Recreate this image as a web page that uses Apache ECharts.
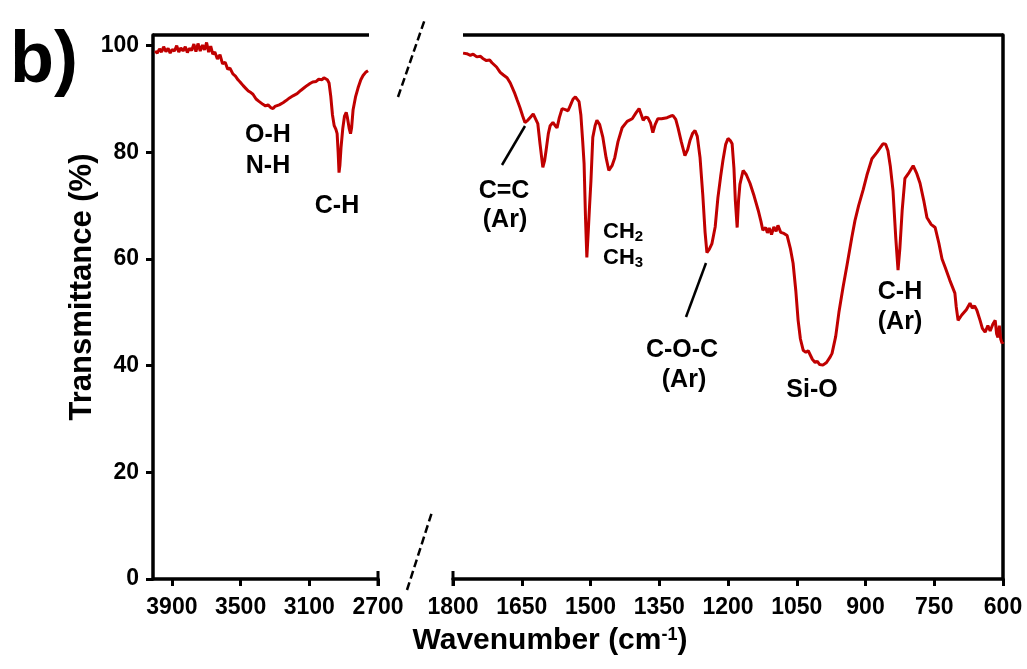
<!DOCTYPE html>
<html><head><meta charset="utf-8">
<script src="https://cdn.jsdelivr.net/npm/echarts@6/dist/echarts.min.js"></script>
<style>html,body{margin:0;padding:0;background:#fff}#c{width:1027px;height:669px}</style>
</head><body><div id="c"></div>
<script>
// Left panel (4000-2700 cm-1)
const leftWavenumber = [3998,3985,3972,3960,3948,3935,3922,3910,3898,3885,3872,3860,3848,3835,3822,3810,3798,3785,3772,3760,3748,3735,3722,3710,3698,3686,3674,3662,3650,3635,3620,3605,3590,3575,3562,3545,3530,3515,3503,3485,3470,3455,3440,3428,3410,3395,3387,3370,3355,3340,3325,3311,3300,3290,3275,3253,3235,3215,3195,3171,3150,3130,3110,3096,3080,3060,3045,3026,3015,3008,2995,2985,2975,2965,2955,2945,2938,2932,2927,2922,2915,2905,2895,2885,2878,2868,2860,2854,2845,2830,2816,2800,2787,2772,2758];
const leftTransmittance = [99.0,98.6,99.4,98.8,99.8,98.9,99.5,98.6,99.3,99.0,100.0,98.8,99.6,99.0,99.8,98.7,99.5,99.1,100.3,98.9,100.4,99.0,100.1,99.2,100.6,98.8,99.9,98.4,98.8,97.5,98.3,96.6,96.9,95.6,95.8,94.7,94.3,93.6,93.2,92.5,92.0,91.5,91.2,90.9,90.0,89.6,89.3,89.0,88.7,88.9,88.4,88.2,88.6,88.4,88.9,89.3,89.7,90.2,90.6,91.0,91.6,92.1,92.6,92.9,93.2,93.3,93.7,93.6,94.0,94.2,93.6,93.0,90.5,87.0,85.0,84.3,83.5,80.0,76.2,77.5,81.0,84.5,86.8,87.5,86.5,84.5,83.5,84.5,88.0,90.5,92.1,93.6,94.4,95.0,95.3];
// Right panel (1800-600 cm-1)
const rightWavenumber = [1778,1770,1762,1756,1748,1740,1735,1727,1720,1715,1705,1697,1690,1682,1675,1665,1660,1654,1648,1643,1637,1632,1625,1621,1615,1610,1604,1600,1597,1592,1588,1582,1577,1573,1568,1562,1555,1549,1543,1538,1533,1529,1525,1521,1517,1514,1511,1508,1505,1502,1499,1495,1490,1486,1480,1473,1466,1460,1453,1447,1440,1431,1420,1409,1400,1394,1389,1385,1380,1375,1369,1364,1359,1353,1345,1333,1325,1320,1314,1309,1302,1294,1288,1283,1277,1272,1267,1261,1255,1250,1246,1241,1235,1228,1222,1216,1211,1205,1200,1195,1191,1187,1184,1180,1177,1174,1167,1160,1152,1143,1134,1128,1124,1118,1114,1110,1105,1100,1095,1091,1085,1078,1071,1064,1058,1052,1047,1042,1036,1030,1025,1021,1016,1010,1005,1000,993,985,978,973,965,958,949,940,930,923,915,905,897,886,875,862,856,851,846,840,834,829,825,820,814,805,796,788,781,773,766,757,748,740,733,726,716,705,702,698,690,680,672,667,662,657,650,645,639,633,628,622,617,614,611,608,605,602,600];
const rightTransmittance = [98.6,98.5,98.2,98.4,97.9,98.0,97.6,97.2,97.3,96.8,96.0,95.0,94.5,94.0,93.0,91.0,89.8,88.4,86.8,85.6,86.0,86.5,87.2,87.3,85.4,81.5,77.2,78.5,80.3,83.5,85.0,85.6,85.0,84.6,86.5,88.2,88.0,87.8,89.0,90.0,90.4,90.3,89.5,87.0,82.0,77.9,68.0,60.3,65.0,70.0,74.7,82.8,85.0,86.0,85.2,82.8,79.0,76.6,77.5,79.0,82.0,84.6,85.8,86.3,87.5,88.2,87.0,86.0,86.6,86.5,85.5,83.7,85.2,86.3,86.3,86.5,86.8,86.9,86.2,84.6,82.0,79.4,80.5,82.2,83.6,84.1,83.0,79.0,72.0,65.0,61.2,61.8,62.9,66.0,71.5,75.5,78.5,81.5,82.6,82.2,81.6,77.0,71.0,65.9,71.0,74.0,76.6,75.8,74.2,71.8,69.1,67.0,65.4,65.9,64.9,65.8,64.6,66.0,65.2,66.3,65.0,64.8,64.4,62.0,59.2,54.0,48.5,45.0,42.9,42.5,42.8,42.9,41.2,40.6,40.8,40.2,40.1,40.6,41.5,42.3,45.5,50.0,54.7,59.0,64.0,67.2,70.0,73.0,75.7,78.8,80.0,81.6,81.5,80.3,77.5,72.8,64.0,57.9,62.0,69.1,75.1,76.2,77.5,76.0,74.2,71.0,67.8,66.5,65.9,63.0,60.0,58.4,56.0,53.6,51.0,48.5,49.5,50.5,51.7,50.8,51.2,50.4,48.5,47.0,46.3,47.5,46.5,47.8,48.5,46.0,45.3,47.5,45.0,44.2,44.5];
const leftTicks = [3900,3500,3100,2700];
const yTicks = [0,20,40,60,80,100];

const F = '"Liberation Sans", Arial, sans-serif';
const red = '#C00000';
const chart = echarts.init(document.getElementById('c'), null, {renderer:'canvas'});
const plain = v => String(v);
const xLabel = {color:'#000', fontFamily:F, fontWeight:'bold', fontSize:23, margin:17, formatter:plain};
const tickStyle = {color:'#000', width:3};
const axisLine = {lineStyle:{color:'#000', width:3.5}};

function txt(x, y, text, size, extra) {
  return Object.assign({type:'text', x:x, y:y, silent:true,
    style:{text:text, font:'bold '+size+'px '+F, fill:'#000', textAlign:'center', textVerticalAlign:'middle'}}, extra||{});
}
function ln(x1,y1,x2,y2,w,dash){
  return {type:'line', silent:true, shape:{x1:x1,y1:y1,x2:x2,y2:y2},
    style:{stroke:'#000', lineWidth:w, lineDash:dash||null}};
}

chart.setOption({
  animation:false,
  grid:[
    {left:153, top:35, width:225, height:544},
    {left:453, top:35, width:550, height:544}
  ],
  xAxis:[
    {gridIndex:0, type:'value', min:2700, max:4010, inverse:true,
     axisLine:axisLine, splitLine:{show:false},
     axisTick:{show:true, length:7, lineStyle:tickStyle, customValues:leftTicks},
     axisLabel:Object.assign({customValues:leftTicks}, xLabel)},
    {gridIndex:1, type:'value', min:600, max:1800, interval:150, inverse:true,
     axisLine:axisLine, splitLine:{show:false},
     axisTick:{show:true, length:7, lineStyle:tickStyle},
     axisLabel:xLabel}
  ],
  yAxis:[
    {gridIndex:0, type:'value', min:0, max:102,
     axisLine:{show:true, lineStyle:{color:'#000', width:3.5}}, splitLine:{show:false},
     axisTick:{show:true, length:7, lineStyle:tickStyle, customValues:yTicks},
     axisLabel:{customValues:yTicks, color:'#000', fontFamily:F, fontWeight:'bold', fontSize:23, margin:14, formatter:plain}},
    {gridIndex:1, type:'value', min:0, max:102, position:'right',
     axisLine:{show:true, lineStyle:{color:'#000', width:3.5}}, splitLine:{show:false},
     axisTick:{show:false}, axisLabel:{show:false}}
  ],
  series:[
    {type:'line', xAxisIndex:0, yAxisIndex:0, showSymbol:false, symbol:'none',
     lineStyle:{color:red, width:3}, data:leftWavenumber.map((w,i)=>[w,leftTransmittance[i]])},
    {type:'line', xAxisIndex:1, yAxisIndex:1, showSymbol:false, symbol:'none',
     lineStyle:{color:red, width:3}, data:rightWavenumber.map((w,i)=>[w,rightTransmittance[i]])}
  ],
  graphic:[
    ln(153,35,369,35,3.5), ln(463,35,1003,35,3.5),
    ln(378,571,378,586,3), ln(453,571,453,586,3),
    ln(398,97,425,19,2.5,[8,4]), ln(407,590,432,512,2.5,[8,4]),
    ln(502,165,525,126,2.5), ln(686,317,706,263,2.5),
    txt(44,62,'b)',72),
    txt(82,287,'Transmittance (%)',31,{rotation:Math.PI/2}),
    {type:'text', x:550, y:641, silent:true, style:{
      text:'{a|Wavenumber (cm}{s|-1}{a|)}', textAlign:'center', textVerticalAlign:'middle',
      rich:{a:{font:'bold 30px '+F, fill:'#000', color:'#000'}, s:{font:'bold 18px '+F, fill:'#000', color:'#000', verticalAlign:'top', padding:[0,0,12,0]}}}},
    txt(268,135,'O-H',25), txt(268,166,'N-H',25), txt(337,206,'C-H',25),
    txt(504,191,'C=C',25), txt(505,220,'(Ar)',25),
    {type:'text', x:603, y:232, silent:true, style:{text:'{a|CH}{s|2}', textVerticalAlign:'middle',
      rich:{a:{font:'bold 22px '+F, fill:'#000', color:'#000'}, s:{font:'bold 15px '+F, fill:'#000', color:'#000', padding:[10,0,0,0]}}}},
    {type:'text', x:603, y:258, silent:true, style:{text:'{a|CH}{s|3}', textVerticalAlign:'middle',
      rich:{a:{font:'bold 22px '+F, fill:'#000', color:'#000'}, s:{font:'bold 15px '+F, fill:'#000', color:'#000', padding:[10,0,0,0]}}}},
    txt(682,350,'C-O-C',25), txt(684,380,'(Ar)',25),
    txt(812,390,'Si-O',25),
    txt(900,292,'C-H',25), txt(900,322,'(Ar)',25)
  ]
});
</script></body></html>
